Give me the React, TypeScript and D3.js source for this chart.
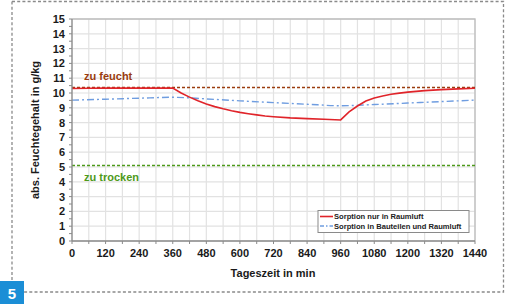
import React from "react";
import * as d3 from "d3";

const redT = [0, 60, 120, 180, 240, 300, 360, 390, 420, 450, 480, 510, 540, 570, 600, 630, 660, 690, 720, 780, 840, 900, 960, 990, 1020, 1050, 1080, 1110, 1140, 1170, 1200, 1260, 1320, 1380, 1440];
const redV = [10.3, 10.32, 10.33, 10.33, 10.33, 10.33, 10.33, 10.0, 9.72, 9.47, 9.26, 9.08, 8.93, 8.8, 8.69, 8.6, 8.52, 8.45, 8.4, 8.32, 8.27, 8.23, 8.18, 8.72, 9.12, 9.46, 9.66, 9.8, 9.91, 9.99, 10.06, 10.16, 10.23, 10.28, 10.32];
const blueT = [0, 120, 240, 360, 480, 600, 720, 840, 960, 1080, 1200, 1320, 1440];
const blueV = [9.52, 9.58, 9.65, 9.71, 9.6, 9.47, 9.35, 9.24, 9.14, 9.22, 9.32, 9.42, 9.52];
const feuchtLevel = 10.37;
const trockenLevel = 5.1;
const xTicks = [0, 120, 240, 360, 480, 600, 720, 840, 960, 1080, 1200, 1320, 1440];
const yTicks = [0, 1, 2, 3, 4, 5, 6, 7, 8, 9, 10, 11, 12, 13, 14, 15];
const legendLabels = ["Sorption nur in Raumluft", "Sorption in Bauteilen und Raumluft"];

const FONT = "'Liberation Sans', Arial, sans-serif";

export default function App() {
  const L = 72, R = 475, T = 19, B = 241;
  const x = d3.scaleLinear().domain([0, 1440]).range([L, R]);
  const y = d3.scaleLinear().domain([0, 15]).range([B, T]);
  const redLine = d3.line<number>().x((_, i) => x(redT[i])).y((d) => y(d)).curve(d3.curveLinear);
  const blueLine = d3.line<number>().x((_, i) => x(blueT[i])).y((d) => y(d)).curve(d3.curveMonotoneX);
  const minorX = d3.range(0, 1441, 60);
  const halfY = d3.range(0, 15.01, 0.5);

  return (
    <svg width={506} height={308} style={{ position: "absolute", left: 0, top: 0 }} fontFamily={FONT}>
      <rect x={0} y={0} width={506} height={308} fill="#fff" />
      {/* dashed frame */}
      <path d="M12,1.5 H503.5 V292 H24" fill="none" stroke="#8a8a8a" strokeWidth={1.3} strokeDasharray="3,2.2" />
      <path d="M12,1.5 V282" fill="none" stroke="#8a8a8a" strokeWidth={1.3} strokeDasharray="3,2.2" />
      <rect x={0} y={281} width={24} height={23} fill="#1b8ed6" />
      <text x={12} y={298.5} fill="#fff" fontSize={15} fontWeight="bold" textAnchor="middle">5</text>

      {/* grid */}
      {minorX.map((t) => (
        <line key={"gx" + t} x1={x(t)} x2={x(t)} y1={T} y2={B} stroke="#e2e2e2" strokeWidth={1.2} />
      ))}
      {yTicks.map((v) => (
        <line key={"gy" + v} x1={L} x2={R} y1={y(v)} y2={y(v)} stroke="#e2e2e2" strokeWidth={1.2} />
      ))}
      <path d={`M${L},${T} H${R} V${B}`} fill="none" stroke="#bdbdbd" strokeWidth={1.3} />

      {/* reference lines */}
      <line x1={L} x2={R} y1={y(feuchtLevel)} y2={y(feuchtLevel)} stroke="#9a3c0e" strokeWidth={1.4} strokeDasharray="3,2" />
      <line x1={L} x2={R} y1={y(trockenLevel)} y2={y(trockenLevel)} stroke="#4e9a1a" strokeWidth={1.4} strokeDasharray="3,2" />
      <text x={84} y={80} fill="#9a3c0e" fontSize={11} fontWeight="bold">zu feucht</text>
      <text x={84} y={181} fill="#4e9a1a" fontSize={11} fontWeight="bold">zu trocken</text>

      {/* series */}
      <path d={blueLine(blueV) || ""} fill="none" stroke="#6f9de0" strokeWidth={1.4} strokeDasharray="7,3,2,3" />
      <path d={redLine(redV) || ""} fill="none" stroke="#e0242a" strokeWidth={1.6} />

      {/* axes */}
      <line x1={L} x2={L} y1={T} y2={B} stroke="#8a8a8a" strokeWidth={1.3} />
      <line x1={L} x2={R} y1={B} y2={B} stroke="#8a8a8a" strokeWidth={1.3} />
      {halfY.map((v) => (
        <line key={"ty" + v} x1={L - 3} x2={L} y1={y(v)} y2={y(v)} stroke="#8a8a8a" strokeWidth={1} />
      ))}
      {minorX.map((t) => (
        <line key={"tx" + t} x1={x(t)} x2={x(t)} y1={B} y2={B + 3} stroke="#8a8a8a" strokeWidth={1} />
      ))}
      {yTicks.map((v) => (
        <text key={"ly" + v} x={65} y={y(v) + 4} fontSize={11} fontWeight="bold" textAnchor="end" fill="#1a1a1a">{v}</text>
      ))}
      {xTicks.map((t) => (
        <text key={"lx" + t} x={x(t)} y={257} fontSize={11} fontWeight="bold" textAnchor="middle" fill="#1a1a1a">{t}</text>
      ))}
      <text x={273} y={277} fontSize={11} fontWeight="bold" textAnchor="middle" fill="#1a1a1a">Tageszeit in min</text>
      <text transform={`translate(39,130) rotate(-90)`} fontSize={11} fontWeight="bold" textAnchor="middle" fill="#1a1a1a">abs. Feuchtegehalt in g/kg</text>

      {/* legend */}
      <rect x={318} y={210.5} width={151} height={22} fill="#fff" stroke="#8a8a8a" strokeWidth={1} />
      <line x1={320} x2={333} y1={216.5} y2={216.5} stroke="#e0242a" strokeWidth={1.6} />
      <line x1={320} x2={333} y1={226} y2={226} stroke="#6f9de0" strokeWidth={1.4} strokeDasharray="4,2,1.5,2" />
      <text x={334} y={219.3} fontSize={7.6} fontWeight="bold" fill="#222">{legendLabels[0]}</text>
      <text x={334} y={228.8} fontSize={7.6} fontWeight="bold" fill="#222">{legendLabels[1]}</text>
    </svg>
  );
}
